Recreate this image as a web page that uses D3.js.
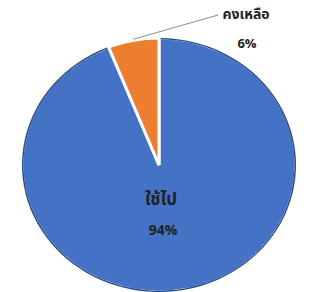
<!DOCTYPE html>
<html>
<head>
<meta charset="utf-8">
<script src="https://cdn.jsdelivr.net/npm/d3@7"></script>
<style>
  body { margin: 0; background: #fff; }
  svg text { font-family: "Noto Sans Thai", "Noto Sans", "DejaVu Sans", sans-serif; font-weight: bold; fill: #222; }
</style>
</head>
<body>
<div class="pie"></div>
<script>
const categories = ["ใช้ไป", "คงเหลือ"];
const values = [94, 6];
const colors = ["#4472c4", "#ed7d31"];

var w = 318, h = 292;
var cx = 159, cy = 165;
var r = 137, squash = 127 / 137; // picture is slightly squashed vertically

var svg = d3.select(".pie").append("svg")
    .attr("width", w)
    .attr("height", h);

var pie = d3.pie().sort(null).value(d => d)(values);
var arc = d3.arc().innerRadius(0).outerRadius(r);
var rim = d3.arc().innerRadius(r).outerRadius(r);

var g = svg.append("g")
    .attr("transform", `translate(${cx},${cy}) scale(1,${squash})`);

g.selectAll("path.slice") // the slices
    .data(pie)
    .enter()
    .append("path")
    .attr("class", "slice")
    .attr("d", arc)
    .attr("fill", (d, i) => colors[i])
    .attr("stroke", "#fff")
    .attr("stroke-width", 3)
    .attr("vector-effect", "non-scaling-stroke");

g.append("path") // dark rim on the big slice
    .attr("d", d3.arc().innerRadius(r - 1.5).outerRadius(r)
        .startAngle(pie[0].startAngle + 0.012).endAngle(pie[0].endAngle - 0.012)())
    .attr("fill", "#2a4a86");

// label inside the big slice
svg.append("text")
    .attr("x", cx + 2).attr("y", cy + 40)
    .attr("text-anchor", "middle")
    .attr("font-size", 17)
    .text(categories[0]);
svg.append("text")
    .attr("x", cx + 4).attr("y", cy + 70)
    .attr("text-anchor", "middle")
    .attr("font-size", 14)
    .text(values[0] + "%");

// leader line + label for the small slice
var p = rim.centroid(pie[1]);
var px = cx + p[0], py = cy + p[1] * squash;
svg.append("polyline")
    .attr("points", `${px},${py - 1} ${218},${15}`)
    .attr("fill", "none")
    .attr("stroke", "#8c8c8c")
    .attr("stroke-width", 1);
svg.append("text")
    .attr("x", 246).attr("y", 19)
    .attr("text-anchor", "middle")
    .attr("font-size", 14)
    .text(categories[1]);
svg.append("text")
    .attr("x", 247).attr("y", 48)
    .attr("text-anchor", "middle")
    .attr("font-size", 13)
    .text(values[1] + "%");
</script>
</body>
</html>
